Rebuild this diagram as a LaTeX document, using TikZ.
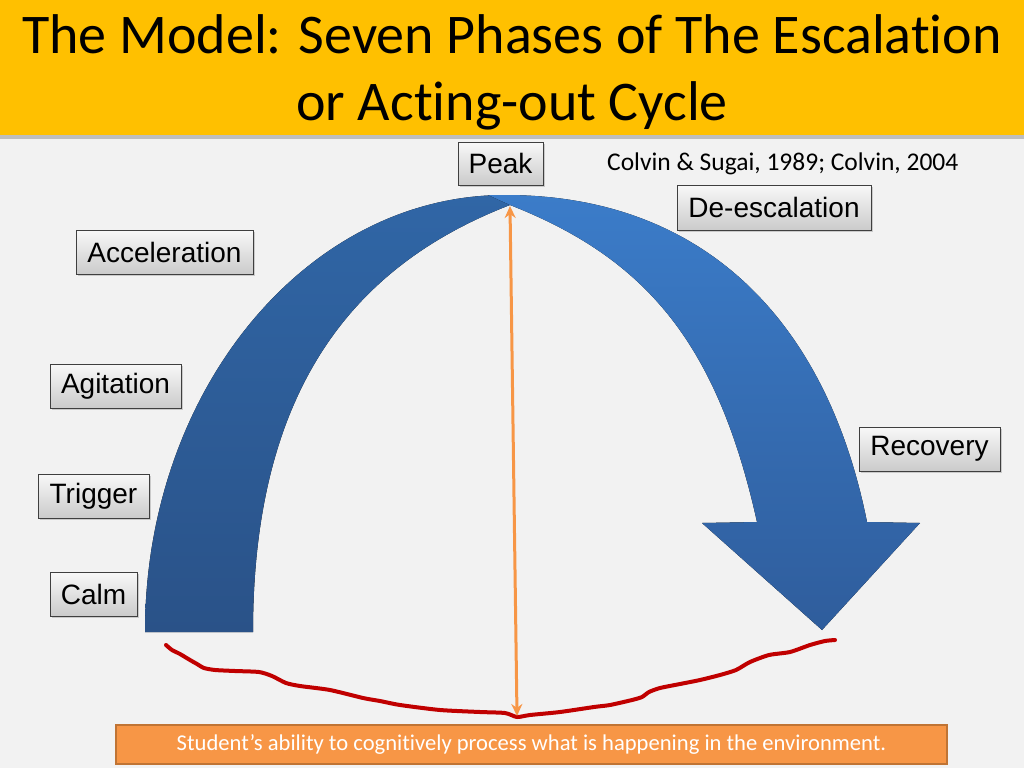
\documentclass[tikz,border=0pt]{standalone}
\usepackage{fontspec}
\setmainfont{Liberation Sans}
\newfontfamily\calibri[Ligatures=NoCommon]{Carlito}
\newcommand\tiX{t\kern0pt i}
\usetikzlibrary{arrows.meta,shadows}
\definecolor{bg}{HTML}{F2F2F2}
\definecolor{titleyellow}{HTML}{FFC000}
\definecolor{boxline}{HTML}{3F3F3F}
\definecolor{boxtop}{HTML}{F8F8F8}
\definecolor{boxbot}{HTML}{CBCBCB}
\definecolor{leftblueT}{HTML}{3066A6}
\definecolor{leftblueB}{HTML}{2A5288}
\definecolor{rightblueT}{HTML}{3B7CC9}
\definecolor{rightblueB}{HTML}{2F5D9C}
\definecolor{orangefill}{HTML}{F79646}
\definecolor{orangeline}{HTML}{C07434}
\definecolor{redline}{HTML}{C00000}
\begin{document}
\begin{tikzpicture}[x=1pt,y=-1pt,
  phase/.style={draw=boxline, line width=0.8pt, top color=boxtop, bottom color=boxbot,
    inner sep=0pt, font=\fontsize{28}{32}\selectfont, text=black,
    drop shadow={shadow xshift=1.5pt,shadow yshift=-1.8pt,opacity=0.35}},
  titletext/.style={font=\calibri\fontsize{56}{63}\selectfont, text=black, anchor=base, inner sep=0pt},
]
\useasboundingbox (0,0) rectangle (1024,768);
\fill[bg] (0,0) rectangle (1024,768);
% title band
\fill[titleyellow, drop shadow={shadow xshift=1pt,shadow yshift=-4pt,opacity=0.45}] (-10,-10) rectangle (1034,135);
\node[titletext] (t1) at (512,53) {The Model: Seven Phases of The Escala\tiX on};
\node[titletext] (t2) at (512,120) {or Ac\tiX ng-out Cycle};

% left band (back part)
\fill[top color=leftblueT, bottom color=leftblueB]
  (145,632) .. controls (145,391) and (306,195) .. (505,195)
  -- (510,205)
  .. controls (360,263) and (253,382) .. (253,632) -- cycle;
% right band with arrow head
\fill[top color=rightblueT, bottom color=rightblueB]
  (488,195) -- (505,195) .. controls (705,195) and (827,322) .. (867,522)
  -- (920,523) -- (822,630) -- (702,523) -- (757,522)
  .. controls (717,342) and (645,258) .. (510,205) -- cycle;

% red line
\draw[redline, line width=4pt, line cap=round, line join=round]
  plot[smooth, tension=0.4] coordinates {(166,645) (172,650) (180,654) (190,660) (197,664) (204,668) (215,670) (235,671) (259,672) (272,676) (286,683) (300,686) (330,690) (363,698) (380,701) (400,705) (440,710) (480,712) (505,713) (517,717) (530,715) (560,712) (594,707) (610,705) (632,700) (642,697) (649,692) (660,688) (680,684) (700,680) (720,675) (736,670) (750,662) (769,655) (790,652) (810,645) (825,641) (835,640)};

% orange double arrow
\coordinate (peakpt) at (510,206);
\coordinate (lowpt) at (517,716);
\draw[orangefill, line width=3pt, {Stealth[length=12pt,width=11pt]}-{Stealth[length=12pt,width=11pt]}] (lowpt) -- (peakpt);

% phase boxes
\node[phase, minimum width=85pt, minimum height=43pt] (peak) at (500.5,163.5) {Peak};
\node[phase, minimum width=194pt, minimum height=45pt] (deesc) at (774,207.5) {De-escalation};
\node[phase, minimum width=177pt, minimum height=44pt] (accel) at (164.5,252) {Acceleration};
\node[phase, minimum width=131pt, minimum height=44pt] (agit) at (115.5,386) {Agitation};
\node[phase, minimum width=141pt, minimum height=44pt] (recov) at (929.5,449) {Recovery};
\node[phase, minimum width=111pt, minimum height=44pt] (trig) at (93.5,496) {Trigger};
\node[phase, minimum width=87pt, minimum height=44pt] (calm) at (93.5,594) {Calm};

% citation
\node[font=\calibri\fontsize{25.5}{30}\selectfont, anchor=base west, inner sep=0pt] (cite) at (607,170) {Colvin \& Sugai, 1989; Colvin, 2004};

% bottom box
\node[fill=orangefill, draw=orangeline, line width=1.2pt, minimum width=831pt, minimum height=39pt, inner sep=0pt,
  text=white, font=\calibri\fontsize{22.6}{26}\selectfont] (ability) at (531.5,744.5)
  {Student’s ability to cogni\tiX vely process what is happening in the environment.};
\end{tikzpicture}
\end{document}
